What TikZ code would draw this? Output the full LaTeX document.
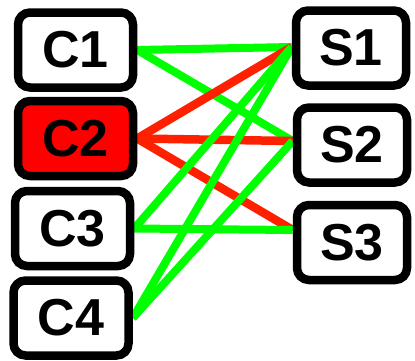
\documentclass[tikz,border=0pt]{standalone}
\usepackage{fontspec}
\setmainfont{Liberation Sans}
\usetikzlibrary{backgrounds}
\definecolor{linkgreen}{RGB}{0,255,0}
\definecolor{linkred}{RGB}{255,32,0}
\definecolor{busyred}{RGB}{255,0,0}
\begin{document}
\begin{tikzpicture}[x=1pt,y=-1pt,
  box/.style={draw=black, line width=8.5pt, rounded corners=12pt, fill=white,
    font=\fontsize{52}{52}\selectfont\bfseries, inner sep=0pt},
  client/.style={box, minimum width=115pt, minimum height=75pt},
  server/.style={box, minimum width=110pt, minimum height=75pt},
  ok/.style={draw=linkgreen, line width=8pt},
  bad/.style={draw=linkred, line width=8.5pt}]
  \useasboundingbox (0,0) rectangle (415,360);
  % clients
  \node[client] (C1) at (75.5,50) {C1};
  \node[client, fill=busyred] (C2) at (75.5,138.5) {C2};
  \node[client] (C3) at (72.5,228.5) {C3};
  \node[client] (C4) at (71,318) {C4};
  % servers
  \node[server] (S1) at (351,48) {S1};
  \node[server] (S2) at (352,145) {S2};
  \node[server] (S3) at (352,242.5) {S3};
  % links, drawn behind the boxes
  \begin{scope}[on background layer]
    \coordinate (s1) at ([yshift=1pt]S1.west);
    \coordinate (s2) at ([yshift=4pt]S2.west);
    \coordinate (s3) at ([yshift=12.5pt]S3.west);
    \draw[ok] (C1.east) -- (s1);
    \draw[ok] (C1.east) -- (s2);
    \draw[bad] (C2.east) -- (s1);
    \draw[bad] (C2.east) -- (s2);
    \draw[bad] (C2.east) -- (s3);
    \draw[ok] (C3.east) -- (s1);
    \draw[ok] (C3.east) -- (s3);
    \draw[ok] (C4.east) -- (s1);
    \draw[ok] (C4.east) -- (s2);
  \end{scope}
\end{tikzpicture}
\end{document}
